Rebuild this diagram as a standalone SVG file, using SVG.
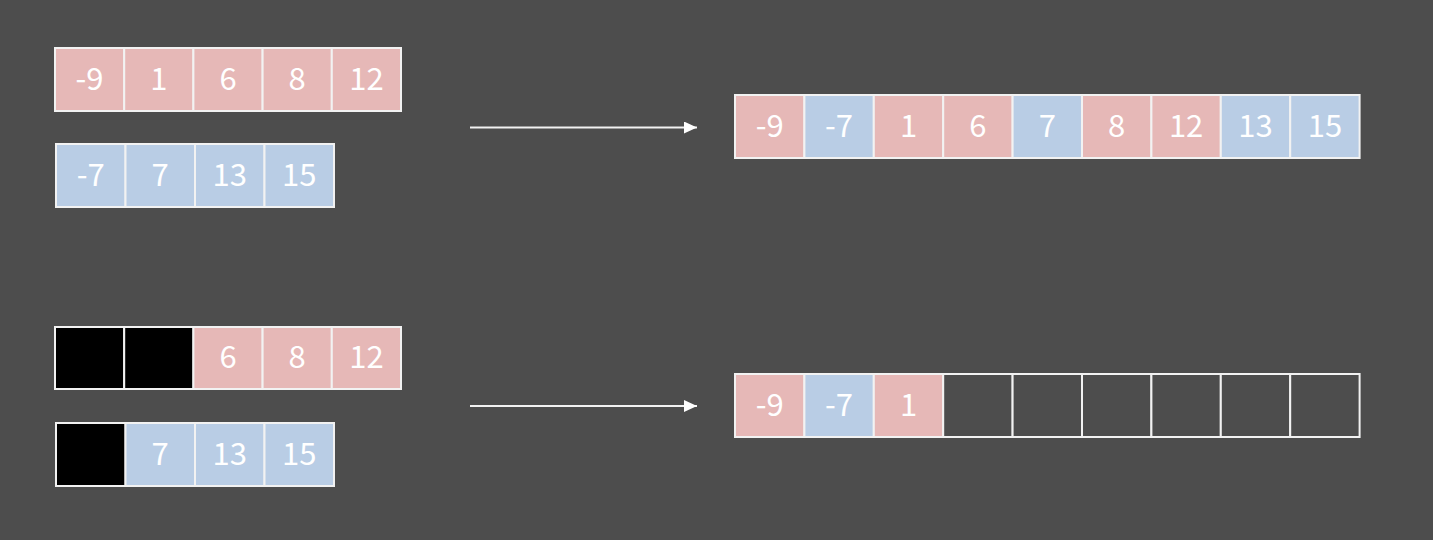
<svg xmlns="http://www.w3.org/2000/svg" width="1433" height="540" viewBox="0 0 1433 540">
<defs>
<style>
.p{fill:#e6b8b7;stroke:#f2f2f2;stroke-width:2}
.b{fill:#b9cde5;stroke:#f2f2f2;stroke-width:2}
.k{fill:#000;stroke:#f2f2f2;stroke-width:2}
.e{fill:#4d4d4d;stroke:#f2f2f2;stroke-width:2}
text{font-family:"Noto Sans CJK SC","Noto Sans",sans-serif;font-size:31px;fill:#fff;text-anchor:middle}
.ln{stroke:#f2f2f2;stroke-width:2;fill:none}
</style>
<marker id="ah" viewBox="0 0 13 12" refX="13" refY="6" markerWidth="13" markerHeight="12" markerUnits="userSpaceOnUse" orient="auto">
<path d="M0,0 L13,6 L0,12 Z" fill="#fff"/>
</marker>
</defs>
<rect width="1433" height="540" fill="#4d4d4d"/>
<g id="top-a">
<rect class="p" x="55" y="48" width="69.2" height="63"/><text x="89.6" y="90">-9</text>
<rect class="p" x="124.2" y="48" width="69.2" height="63"/><text x="158.8" y="90">1</text>
<rect class="p" x="193.4" y="48" width="69.2" height="63"/><text x="228" y="90">6</text>
<rect class="p" x="262.6" y="48" width="69.2" height="63"/><text x="297.2" y="90">8</text>
<rect class="p" x="331.8" y="48" width="69.2" height="63"/><text x="366.4" y="90">12</text>
</g>
<g id="top-b">
<rect class="b" x="56" y="144" width="69.5" height="63"/><text x="90.7" y="186">-7</text>
<rect class="b" x="125.5" y="144" width="69.5" height="63"/><text x="160.2" y="186">7</text>
<rect class="b" x="195" y="144" width="69.5" height="63"/><text x="229.7" y="186">13</text>
<rect class="b" x="264.5" y="144" width="69.5" height="63"/><text x="299.2" y="186">15</text>
</g>
<g id="top-result">
<rect class="p" x="735" y="95" width="69.4" height="63"/><text x="769.7" y="137">-9</text>
<rect class="b" x="804.4" y="95" width="69.4" height="63"/><text x="839.1" y="137">-7</text>
<rect class="p" x="873.8" y="95" width="69.4" height="63"/><text x="908.5" y="137">1</text>
<rect class="p" x="943.2" y="95" width="69.4" height="63"/><text x="977.9" y="137">6</text>
<rect class="b" x="1012.6" y="95" width="69.4" height="63"/><text x="1047.3" y="137">7</text>
<rect class="p" x="1082" y="95" width="69.4" height="63"/><text x="1116.7" y="137">8</text>
<rect class="p" x="1151.4" y="95" width="69.4" height="63"/><text x="1186.1" y="137">12</text>
<rect class="b" x="1220.8" y="95" width="69.4" height="63"/><text x="1255.5" y="137">13</text>
<rect class="b" x="1290.2" y="95" width="69.4" height="63"/><text x="1324.9" y="137">15</text>
</g>
<g id="bottom-a">
<rect class="k" x="55" y="327" width="69.2" height="62"/>
<rect class="k" x="124.2" y="327" width="69.2" height="62"/>
<rect class="p" x="193.4" y="327" width="69.2" height="62"/><text x="228" y="368">6</text>
<rect class="p" x="262.6" y="327" width="69.2" height="62"/><text x="297.2" y="368">8</text>
<rect class="p" x="331.8" y="327" width="69.2" height="62"/><text x="366.4" y="368">12</text>
</g>
<g id="bottom-b">
<rect class="k" x="56" y="423" width="69.5" height="63"/>
<rect class="b" x="125.5" y="423" width="69.5" height="63"/><text x="160.2" y="465">7</text>
<rect class="b" x="195" y="423" width="69.5" height="63"/><text x="229.7" y="465">13</text>
<rect class="b" x="264.5" y="423" width="69.5" height="63"/><text x="299.2" y="465">15</text>
</g>
<g id="bottom-result">
<rect class="p" x="735" y="374" width="69.4" height="63"/><text x="769.7" y="416">-9</text>
<rect class="b" x="804.4" y="374" width="69.4" height="63"/><text x="839.1" y="416">-7</text>
<rect class="p" x="873.8" y="374" width="69.4" height="63"/><text x="908.5" y="416">1</text>
<rect class="e" x="943.2" y="374" width="69.4" height="63"/>
<rect class="e" x="1012.6" y="374" width="69.4" height="63"/>
<rect class="e" x="1082" y="374" width="69.4" height="63"/>
<rect class="e" x="1151.4" y="374" width="69.4" height="63"/>
<rect class="e" x="1220.8" y="374" width="69.4" height="63"/>
<rect class="e" x="1290.2" y="374" width="69.4" height="63"/>
</g>
<g id="connectors">
<line class="ln" x1="470" y1="127.5" x2="697" y2="127.5" marker-end="url(#ah)"/>
<line class="ln" x1="470" y1="406" x2="697" y2="406" marker-end="url(#ah)"/>
</g>
</svg>
